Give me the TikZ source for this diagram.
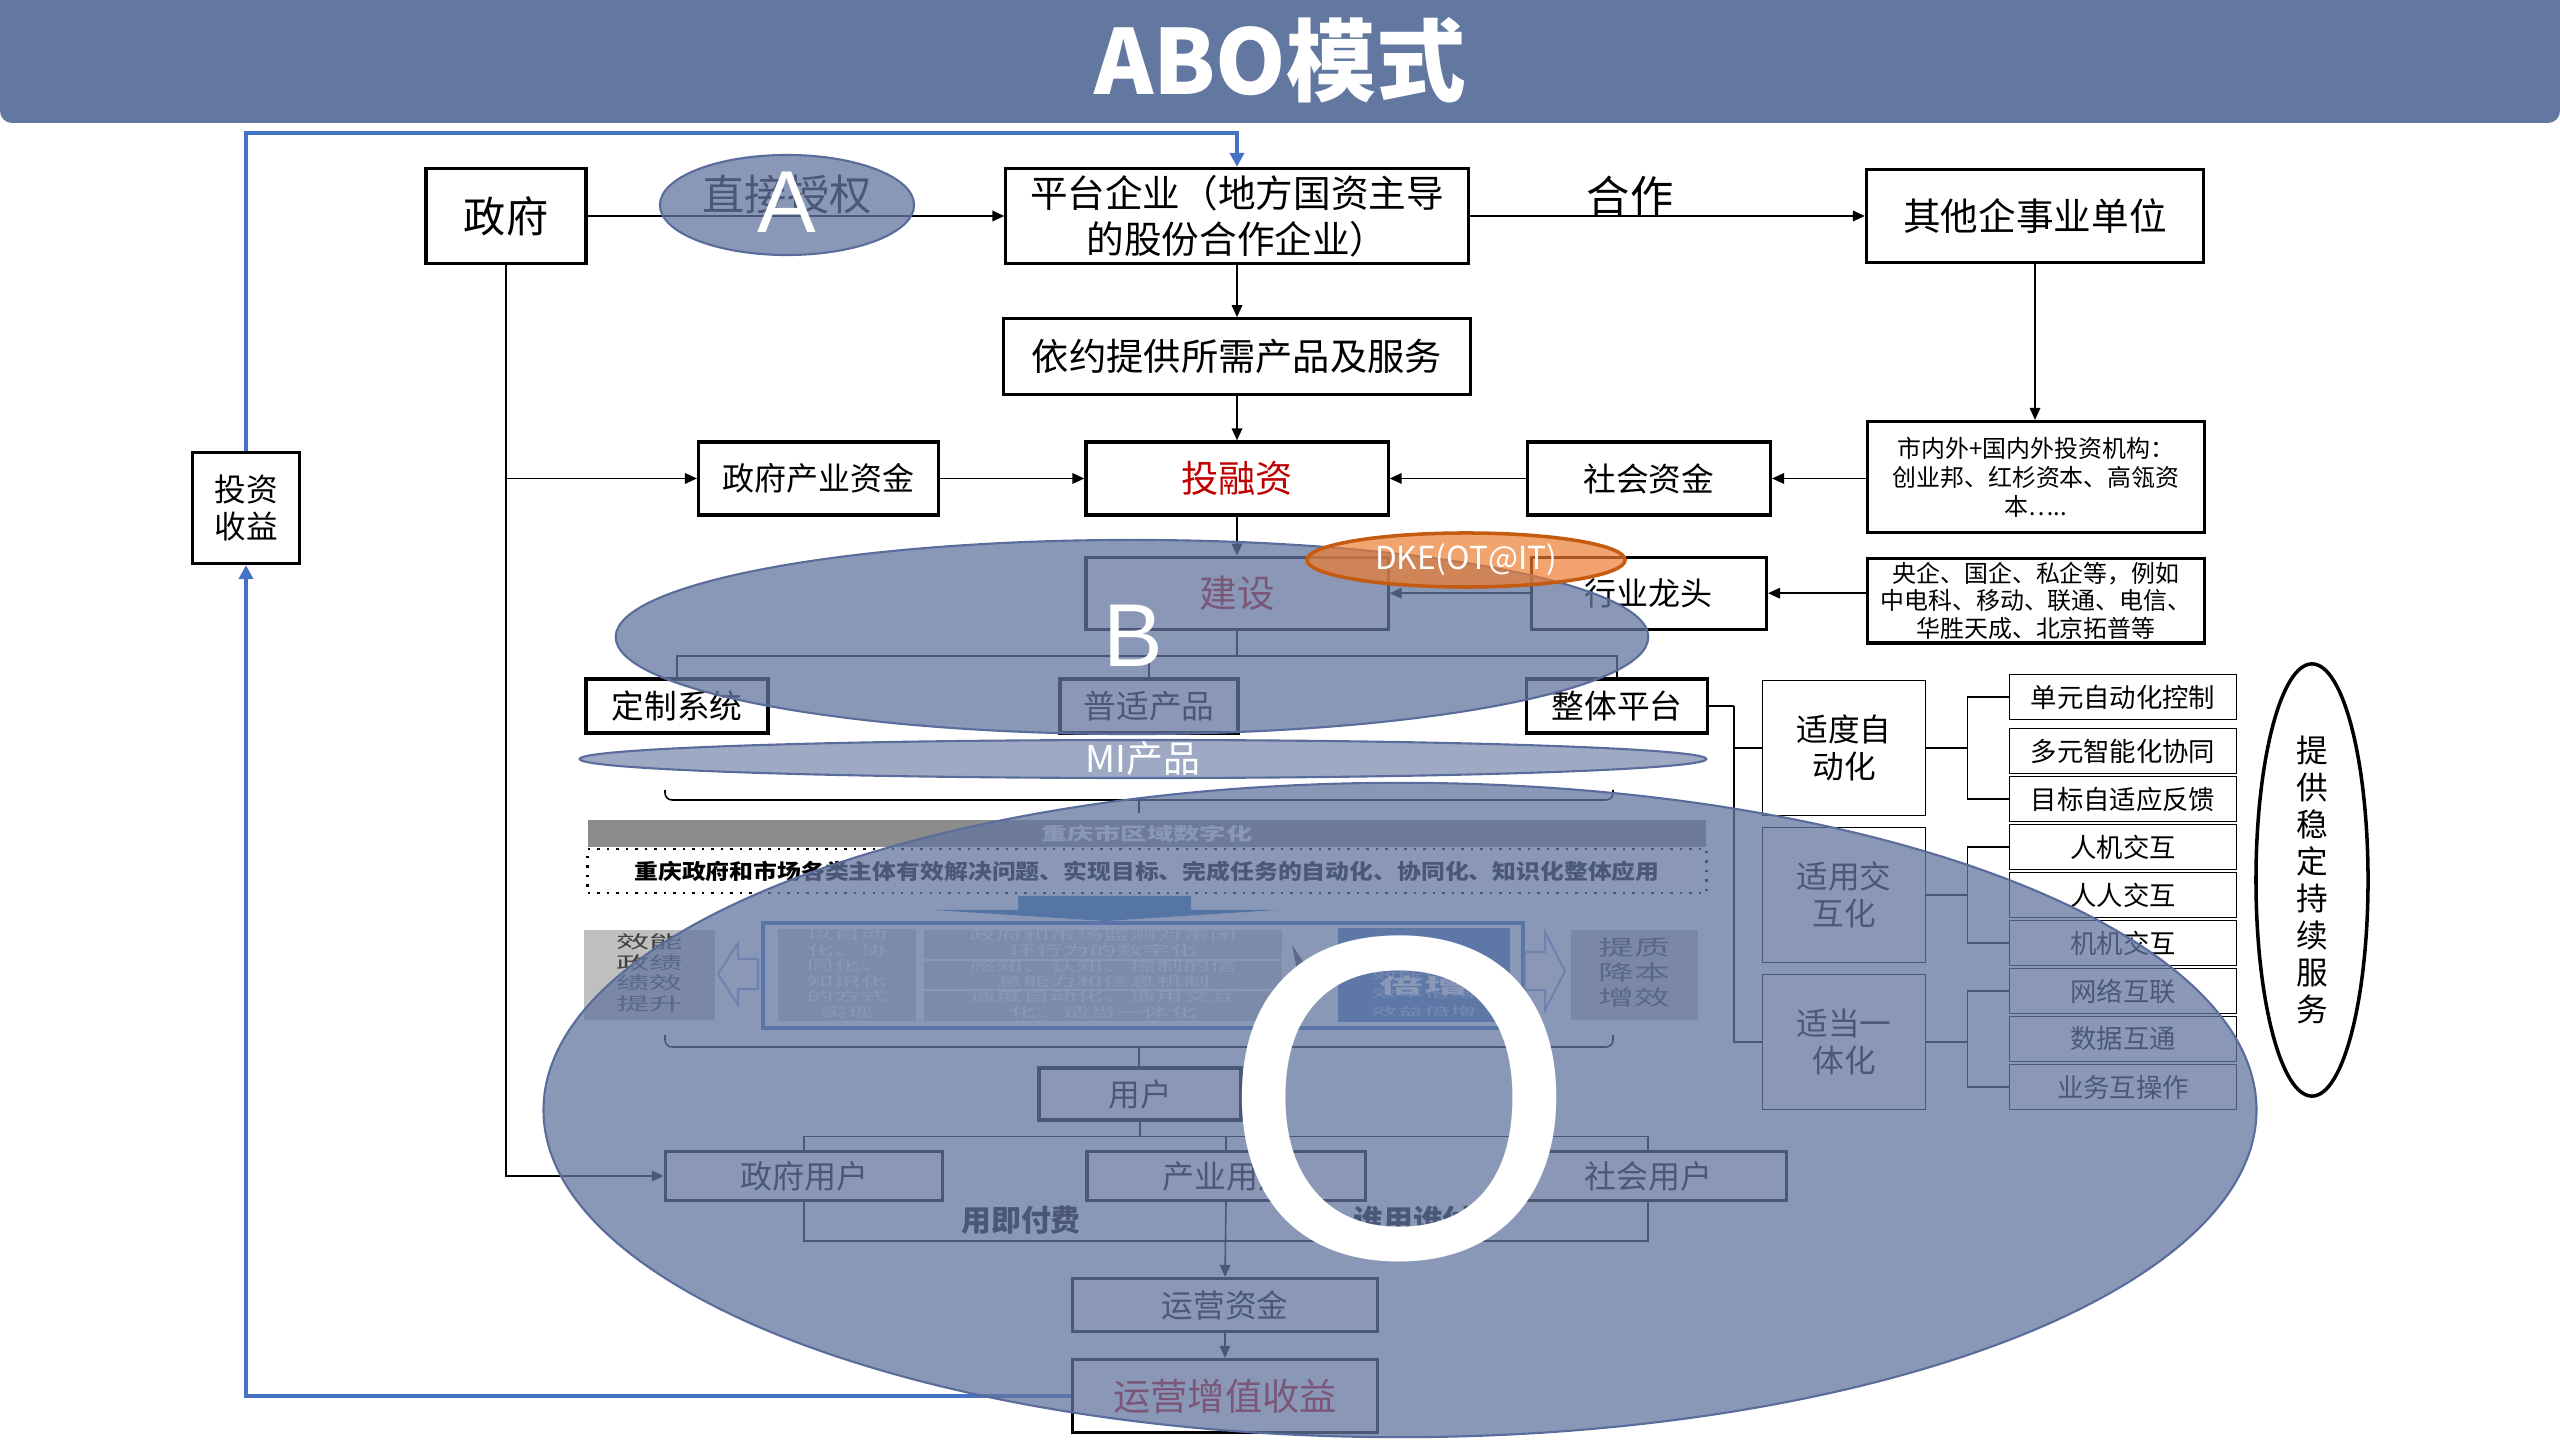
\documentclass[tikz,border=0pt]{standalone}
\usepackage{fontspec}
\setmainfont{Noto Sans CJK SC}
\newfontfamily\latinfont{Liberation Sans}
\usepackage{graphicx}
\usepackage{tikz}
\usetikzlibrary{positioning, arrows.meta, shapes.geometric}
\definecolor{titlebar}{RGB}{99,120,160}
\definecolor{ovl}{RGB}{99,117,160}
\definecolor{ovledge}{RGB}{90,108,155}
\definecolor{retblue}{RGB}{68,114,196}
\definecolor{redtxt}{RGB}{192,0,0}
\definecolor{dkeorange}{RGB}{237,125,49}
\definecolor{dkeedge}{RGB}{197,90,17}
\definecolor{bargray}{RGB}{140,140,140}
\definecolor{arrblue}{RGB}{46,117,182}
\definecolor{frameblue}{RGB}{68,114,196}
\definecolor{hollowblue}{RGB}{143,170,220}
\definecolor{boxgray}{RGB}{191,191,191}
\definecolor{lightbox}{RGB}{205,205,205}
\definecolor{numblue}{RGB}{79,129,189}
\newcommand{\wtext}[2]{\scalebox{#1}[1]{\begin{tabular}{@{}c@{}}#2\end{tabular}}}
\tikzset{
  mainbox/.style={draw, line width=0.9pt, fill=white, align=center, inner sep=1pt},
  listbox/.style={draw, line width=0.5pt, fill=white, align=center, inner sep=1pt},
  link/.style={line width=0.45pt},
  arr/.style={link, -{Triangle[length=3.4pt,width=3pt]}},
  retline/.style={draw=retblue, line width=1.1pt, -{Triangle[length=4pt,width=4pt]}},
  cover/.style={ellipse, draw=ovledge, line width=0.6pt, fill=ovl, fill opacity=0.75, inner sep=0},
  bigletter/.style={text=white, inner sep=0pt, anchor=base},
  flatbox/.style={inner sep=0, align=center},
}
\begin{document}
\begin{tikzpicture}[x=0.01cm, y=-0.01cm]
\useasboundingbox (0,0) rectangle (2560,1440);

% title bar
\fill[titlebar] (0,0) rectangle (2560,60);
\fill[titlebar, rounded corners=0.12cm] (0,0) rectangle (2560,123);
\node[text=white, font=\bfseries\fontsize{25.5pt}{28pt}\selectfont] (title) at (1280,60) {ABO模式};

% top row
\node[mainbox, minimum width=1.6cm, minimum height=0.95cm, font=\fontsize{12pt}{14pt}\selectfont] (zf) at (506,216) {政府};
\node[font=\fontsize{12pt}{14pt}\selectfont] (zjsq) at (787,195) {直接授权};
\node[mainbox, minimum width=4.62cm, minimum height=0.95cm, font=\fontsize{10.7pt}{13pt}\selectfont] (pt) at (1237,216) {平台企业（地方国资主导\\的股份合作企业）};
\node[font=\fontsize{12.3pt}{14pt}\selectfont] (hz) at (1630,196) {合作};
\node[mainbox, minimum width=3.37cm, minimum height=0.93cm, font=\fontsize{10.7pt}{13pt}\selectfont] (qt) at (2035,216) {其他企事业单位};
\node[mainbox, below=0.52cm of pt, minimum width=4.67cm, minimum height=0.76cm, font=\fontsize{10.6pt}{13pt}\selectfont] (yy) {依约提供所需产品及服务};

% funding row
\node[mainbox, below=0.44cm of yy, minimum width=3.02cm, minimum height=0.73cm, text=redtxt, font=\fontsize{10.6pt}{13pt}\selectfont] (trz) {投融资};
\node[mainbox, left=1.44cm of trz, minimum width=2.4cm, minimum height=0.73cm, font=\fontsize{9.1pt}{11pt}\selectfont] (zfzj) {政府产业资金};
\node[mainbox, right=1.36cm of trz, minimum width=2.43cm, minimum height=0.73cm, font=\fontsize{9.3pt}{11pt}\selectfont] (shzj) {社会资金};
\node[mainbox, minimum width=3.37cm, minimum height=1.11cm, font=\fontsize{6.8pt}{8.2pt}\selectfont] (jg) at (2036,477) {市内外+国内外投资机构：\\创业邦、红杉资本、高瓴资\\本…..};

% build row
\node[mainbox, below=0.39cm of trz, minimum width=3.02cm, minimum height=0.72cm, text=redtxt, font=\fontsize{10.7pt}{13pt}\selectfont] (js) {建设};
\node[mainbox, below=0.39cm of shzj, minimum width=2.35cm, minimum height=0.72cm, font=\fontsize{9.1pt}{11pt}\selectfont] (hy) {行业龙头};
\node[mainbox, below=0.23cm of jg, minimum width=3.37cm, minimum height=0.8cm, font=\fontsize{6.8pt}{7.8pt}\selectfont] (yq) {央企、国企、私企等，例如\\中电科、移动、联通、电信、\\华胜天成、北京拓普等};

% products
\node[mainbox, minimum width=1.82cm, minimum height=0.54cm, font=\fontsize{9.3pt}{11pt}\selectfont] (dz) at (677,706) {定制系统};
\node[mainbox, minimum width=1.78cm, minimum height=0.54cm, font=\fontsize{9.3pt}{11pt}\selectfont] (ps) at (1149,706) {普适产品};
\node[mainbox, minimum width=1.81cm, minimum height=0.54cm, font=\fontsize{9.3pt}{11pt}\selectfont] (zt) at (1617,706) {整体平台};

% return box
\node[mainbox, minimum width=1.07cm, minimum height=1.11cm, font=\fontsize{9pt}{10.5pt}\selectfont] (tzsy) at (246,508) {投资\\收益};

% right column
\node[listbox, minimum width=1.63cm, minimum height=1.35cm, font=\fontsize{9pt}{10.5pt}\selectfont] (sdzd) at (1844,748) {适度自\\动化};
\node[listbox, minimum width=1.63cm, minimum height=1.35cm, font=\fontsize{9pt}{10.5pt}\selectfont] (syjh) at (1844,895) {适用交\\互化};
\node[listbox, minimum width=1.63cm, minimum height=1.35cm, font=\fontsize{9pt}{10.5pt}\selectfont] (sdyt) at (1844,1042) {适当一\\体化};
\node[listbox, minimum width=2.27cm, minimum height=0.45cm, font=\fontsize{7.5pt}{9pt}\selectfont] (dyzd) at (2123,697) {单元自动化控制};
\node[listbox, minimum width=2.27cm, minimum height=0.45cm, font=\fontsize{7.5pt}{9pt}\selectfont] (dyxt) at (2123,751) {多元智能化协同};
\node[listbox, minimum width=2.27cm, minimum height=0.45cm, font=\fontsize{7.5pt}{9pt}\selectfont] (mbfk) at (2123,799) {目标自适应反馈};
\node[listbox, minimum width=2.27cm, minimum height=0.45cm, font=\fontsize{7.5pt}{9pt}\selectfont] (rjjh) at (2123,847) {人机交互};
\node[listbox, minimum width=2.27cm, minimum height=0.45cm, font=\fontsize{7.5pt}{9pt}\selectfont] (rrjh) at (2123,895) {人人交互};
\node[listbox, minimum width=2.27cm, minimum height=0.45cm, font=\fontsize{7.5pt}{9pt}\selectfont] (jjjh) at (2123,943) {机机交互};
\node[listbox, minimum width=2.27cm, minimum height=0.45cm, font=\fontsize{7.5pt}{9pt}\selectfont] (wlhl) at (2123,991) {网络互联};
\node[listbox, minimum width=2.27cm, minimum height=0.45cm, font=\fontsize{7.5pt}{9pt}\selectfont] (sjht) at (2123,1039) {数据互通};
\node[listbox, minimum width=2.27cm, minimum height=0.45cm, font=\fontsize{7.5pt}{9pt}\selectfont] (ywhcz) at (2123,1087) {业务互操作};
\node[draw, line width=1pt, ellipse, inner sep=0, minimum width=1.12cm, minimum height=4.32cm, align=center, font=\fontsize{9pt}{10.5pt}\selectfont] (fw) at (2312,880) {提\\供\\稳\\定\\持\\续\\服\\务};

% connectors, top part
\draw[arr] (zf) -- (pt);
\draw[arr] (pt) -- (qt);
\draw[arr] (pt) -- (yy);
\draw[arr] (yy) -- (trz);
\draw[arr] (zf.south |- zfzj.west) -- (zfzj.west);
\draw[arr] (zfzj) -- (trz);
\draw[arr] (shzj) -- (trz);
\draw[arr] (jg.west |- shzj.east) -- (shzj.east);
\draw[arr] (qt.south) -- (qt.south |- jg.north);
\draw[arr] (trz) -- (js);
\draw[arr] (hy) -- (js);
\draw[arr] (yq.west |- hy.east) -- (hy.east);
\draw[link] (js.south) -- ++(0,25) coordinate (jsm);
\draw[link] (dz.north) |- (jsm) -| (zt.north);
\draw[link] (ps.north) -- (ps.north |- jsm);
\draw[link] (zt.east) -- ++(25,0) coordinate (ztm);
\draw[link] (ztm) |- (sdzd.west);
\draw[link] (ztm) |- (sdyt.west);
\draw[link] (sdzd.east) -- ++(41,0) coordinate (gA);
\draw[link] (dyzd.west) -| (gA) |- (mbfk.west);
\draw[link] (syjh.east) -- ++(41,0) coordinate (gB);
\draw[link] (rjjh.west) -| (gB) |- (jjjh.west);
\draw[link] (sdyt.east) -- ++(41,0) coordinate (gC);
\draw[link] (wlhl.west) -| (gC) |- (ywhcz.west);

% regional digitalisation block
\coordinate (brA) at (1139,800);
\draw[link, rounded corners=2pt] (665,790) |- (brA) -| (1613,790);
\draw[link] (brA) -- ++(0,13);
\node[flatbox, fill=bargray, minimum width=11.18cm, minimum height=0.27cm, text=white, font=\bfseries\fontsize{5pt}{6pt}\selectfont] (bar) at (1147,833.5) {\scalebox{1.5}[1]{重庆市区域数字化}};
\node[flatbox, draw, dotted, line width=0.7pt, fill=white, minimum width=11.18cm, minimum height=0.44cm, font=\bfseries\fontsize{6pt}{7pt}\selectfont] (goal) at (1147,871) {\scalebox{1.13}[1]{重庆政府和市场各类主体有效解决问题、实现目标、完成任务的自动化、协同化、知识化整体应用}};
\fill[arrblue] (1018,896) -- (1191,896) -- (1191,910) -- (1277,910) -- (1105,921) -- (933,910) -- (1018,910) -- cycle;
\node[flatbox, fill=boxgray, minimum width=1.31cm, minimum height=0.9cm, text=black!75, font=\fontsize{5pt}{5.5pt}\selectfont] (xn) at (649.5,975) {\wtext{1.9}{效能\\政绩\\绩效\\提升}};
\draw[draw=hollowblue, fill=white, line width=0.6pt] (718,974) -- (738,943) -- (738,959) -- (758,959) -- (758,989) -- (738,989) -- (738,1005) -- cycle;
\node[draw=frameblue, line width=1pt, minimum width=7.6cm, minimum height=1.05cm, inner sep=0] (frm) at (1143,975.5) {};
\node[flatbox, draw=white, line width=0.6pt, fill=lightbox, minimum width=1.4cm, minimum height=0.9cm, text=white, font=\fontsize{3.8pt}{4.1pt}\selectfont] (fs) at (847,975) {\wtext{2}{以自动\\化、协\\同化、\\知识化\\的方式\\实现}};
\node[flatbox, draw=white, line width=0.6pt, fill=lightbox, minimum width=3.6cm, minimum height=0.29cm, text=white, font=\fontsize{3.8pt}{4.1pt}\selectfont] (jc) at (1103,944.5) {\wtext{2}{政府和市场监测对策闭\\环行为的数字化}};
\node[flatbox, draw=white, line width=0.6pt, fill=lightbox, minimum width=3.6cm, minimum height=0.29cm, text=white, font=\fontsize{3.8pt}{4.1pt}\selectfont] (gz) at (1103,975.5) {\wtext{2}{感知、认知、控制的信\\息能力和信息机制}};
\node[flatbox, draw=white, line width=0.6pt, fill=lightbox, minimum width=3.6cm, minimum height=0.29cm, text=white, font=\fontsize{3.8pt}{4.1pt}\selectfont] (sd) at (1103,1006) {\wtext{2}{适度自动化、适用交互\\化、适当一体化}};
\fill[black!70] (1292,945) -- (1312,975) -- (1292,1005) -- (1298,975) -- cycle;
\node[flatbox, fill=numblue, minimum width=1.72cm, minimum height=0.94cm] (bz) at (1424,975) {};
\node[flatbox, text=numblue!40, font=\fontsize{3pt}{5.2pt}\selectfont] (bzs) at (1424,994) {\wtext{2.5}{效能倍增\\效率倍增\\效益倍增}};
\node[flatbox, text=white, font=\bfseries\fontsize{5.7pt}{7pt}\selectfont] (bzt) at (1424,976) {\wtext{2.2}{数字\\倍增}};
\draw[draw=hollowblue, fill=white, line width=0.6pt] (1565,971) -- (1545,932) -- (1545,952) -- (1525,952) -- (1525,990) -- (1545,990) -- (1545,1010) -- cycle;
\node[flatbox, fill=boxgray, minimum width=1.27cm, minimum height=0.9cm, text=black!75, font=\fontsize{6pt}{6.6pt}\selectfont] (tz) at (1634.5,975) {\wtext{1.7}{提质\\降本\\增效}};
\coordinate (brB) at (1139,1047);
\draw[link, rounded corners=2pt] (665,1035) |- (brB) -| (1613,1035);

% users and operation
\node[mainbox, minimum width=2.02cm, minimum height=0.52cm, font=\fontsize{9pt}{11pt}\selectfont] (yh) at (1140,1094) {用户};
\draw[link] (brB) -- (brB |- yh.north);
\node[mainbox, minimum width=2.77cm, minimum height=0.49cm, font=\fontsize{9.1pt}{11pt}\selectfont] (zfyh) at (804,1176) {政府用户};
\node[mainbox, minimum width=2.78cm, minimum height=0.49cm, font=\fontsize{9.1pt}{11pt}\selectfont] (cyyh) at (1226,1176) {产业用户};
\node[mainbox, minimum width=2.77cm, minimum height=0.49cm, font=\fontsize{9.1pt}{11pt}\selectfont] (shyh) at (1648,1176) {社会用户};
\node[font=\bfseries\fontsize{8.5pt}{10pt}\selectfont] (yjff) at (1021,1220) {用即付费};
\node[font=\bfseries\fontsize{8.5pt}{10pt}\selectfont] (sysf) at (1413,1220) {谁用谁付};
\node[mainbox, minimum width=3.05cm, minimum height=0.53cm, font=\fontsize{9pt}{11pt}\selectfont] (yyzj) at (1225,1305) {运营资金};
\node[mainbox, minimum width=3.05cm, minimum height=0.73cm, text=redtxt, font=\fontsize{10.6pt}{13pt}\selectfont] (zzsy) at (1225,1396) {运营增值收益};
\draw[link] (yh.south) -- ++(0,15) coordinate (yhm);
\draw[link] (zfyh.north) |- (yhm) -| (shyh.north);
\draw[link] (cyyh.north) -- (cyyh.north |- yhm);
\draw[arr] (zf.south) |- (zfyh.west);
\coordinate (pay) at (1226,1241);
\draw[link] (zfyh.south) |- (pay);
\draw[link] (shyh.south) |- (pay);
\draw[arr] (cyyh.south) -- (yyzj.north);
\draw[arr] (yyzj) -- (zzsy);

% return flow
\coordinate (rtop) at (1237,133);
\draw[retline] (tzsy.north) |- (rtop) -- (pt.north);
\draw[retline] (zzsy.west) -| (tzsy.south);

% A, B, O overlays
\node[cover, minimum width=2.54cm, minimum height=1.0cm] (ovA) at (787,205) {};
\node[cover, minimum width=10.32cm, minimum height=1.94cm] (ovB) at (1132,637) {};
\node[cover, fill opacity=0.62, minimum width=11.26cm, minimum height=0.38cm] (ovMI) at (1143,759) {};
\node[cover, minimum width=17.12cm, minimum height=6.54cm] (ovO) at (1400,1110) {};
\node[ellipse, draw=dkeedge, line width=1pt, fill=dkeorange, fill opacity=0.7, inner sep=0, minimum width=3.18cm, minimum height=0.54cm] (dke) at (1466,560) {};
\node[text=white, font=\fontsize{9pt}{11pt}\selectfont] (dketxt) at (dke) {DKE(OT@IT)};
\node[text=white, font=\fontsize{10.5pt}{12pt}\selectfont] (mitxt) at (ovMI) {MI产品};
\node[bigletter, font=\latinfont\fontsize{25pt}{25pt}\selectfont] (letA) at (787,233) {A};
\node[bigletter, font=\latinfont\fontsize{25.4pt}{26pt}\selectfont] (letB) at (1133,667) {B};
\node[bigletter, font=\latinfont\fontsize{131pt}{131pt}\selectfont] (letO) at (1400,1257) {O};
\end{tikzpicture}
\end{document}
